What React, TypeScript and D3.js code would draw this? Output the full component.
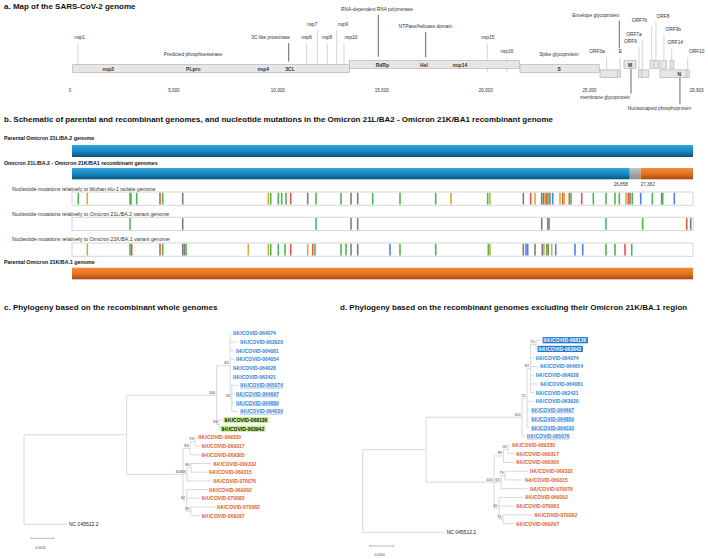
import React from "react";
import * as d3 from "d3";

// ---------------- DATA ----------------
const GENOME_LENGTH = 29903;
const axisTicks = [0, 5000, 10000, 15000, 20000, 25000, 29903];

// gene boxes of the genome map (genome coordinates, reading frame row)
const geneBoxes = [
  { name: "ORF1a", start: 130, end: 13440, frame: 2, dividers: [] as number[] },
  { name: "ORF1b", start: 13440, end: 21620, frame: 1, dividers: [] as number[] },
  { name: "S", start: 21650, end: 25465, frame: 2, dividers: [] as number[] },
  { name: "ORF3a", start: 25500, end: 26495, frame: 3, dividers: [26350] },
  { name: "M", start: 26653, end: 27230, frame: 1, dividers: [] as number[] },
  { name: "ORF6-7a", start: 27341, end: 27856, frame: 3, dividers: [27505] },
  { name: "ORF7b-8", start: 27905, end: 28305, frame: 1, dividers: [28098] },
  { name: "ORF9b", start: 28386, end: 28708, frame: 1, dividers: [] as number[] },
  { name: "ORF14", start: 28867, end: 29059, frame: 1, dividers: [] as number[] },
  { name: "N", start: 28386, end: 29795, frame: 3, dividers: [29670] },
];

// bold labels inside the boxes: [text, genome position, frame]
const boxLabels: [string, number, number][] = [
  ["nsp2", 1843, 2], ["PLpro", 5932, 2], ["nsp4", 9300, 2], ["3CL", 10584, 2],
  ["RdRp", 15026, 1], ["Hel", 17032, 1], ["nsp14", 18764, 1],
  ["S", 23541, 2], ["M", 26943, 1], ["N", 29314, 3],
];

// annotations: [label, line position, label position, label row, line end row, strong]
const annotations: [string, number | null, number, number, number | null, boolean][] = [
  ["nsp1", 385, 467, 37.7, 65, false],
  ["Predicted phosphoesterase", null, 5918, 54, null, false],
  ["3C-like proteinase", 10522, 9656, 37.7, 61.7, true],
  ["nsp6", 11388, 11388, 37.7, 65, false],
  ["nsp7", 11898, 11653, 24.3, 65, false],
  ["nsp8", 12379, 12365, 37.7, 65, false],
  ["nsp9", 12831, 13134, 24.3, 65, false],
  ["nsp10", 13183, 13519, 37.7, 65, false],
  ["RNA-dependent RNA polymerase", 14833, 14770, 9.3, 56.7, true],
  ["NTPase/helicase domain", 17113, 17104, 26.7, 57.3, true],
  ["nsp15", 20077, 20101, 37.7, 72, false],
  ["nsp16", 21010, 21025, 51.7, 72, false],
  ["Spike glycoprotein", null, 23517, 54, null, false],
  ["ORF3a", 25822, 25355, 51.7, 70, false],
  ["E", 26461, 26475, 51.7, 70, false],
  ["Envelope glycoprotein", 26428, 25297, 15, 48.3, true],
  ["ORF6", 27376, 26967, 41.7, 70, false],
  ["ORF7a", 27535, 27135, 34.3, 70, false],
  ["ORF7b", 27987, 27400, 20.7, 61, false],
  ["ORF8", 28193, 28530, 16, 61, false],
  ["ORF9b", 28578, 29026, 29, 61, false],
  ["ORF14", 28949, 29123, 42.7, 61, false],
  ["ORF10", 29719, 30152, 51.7, 70, false],
  ["membrane glycoprotein", 26991, 25740, 97.7, 68.3, true],
  ["Nucleocapsid phosphoprotein", 29348, 28362, 108.3, 77.3, true],
];

// recombination breakpoints
const breakpoints = [26858, 27382];

// nucleotide mutations: [genome position, nucleotide / deletion]
const mutWuhan: [number, string][] = [
  [303, "A"], [737, "G"], [2793, "A"], [2841, "A"], [3116, "A"], [4237, "T"], [4368, "A"],
  [5331, "del"], [9453, "G"], [9568, "A"], [9934, "A"], [10098, "A"], [10305, "A"], [10531, "T"],
  [11350, "del"], [11749, "A"], [12953, "A"], [13435, "del"], [13757, "del"], [14480, "A"],
  [15794, "A"], [17513, "A"], [18250, "G"], [20017, "A"], [20128, "G"], [21732, "del"],
  [22088, "T"], [22295, "G"], [22618, "del"], [22704, "del"], [22777, "G"], [22849, "T"],
  [22921, "A"], [23017, "del"], [23147, "C"], [23499, "G"], [23629, "T"], [23706, "G"],
  [23947, "T"], [24029, "A"], [24544, "T"], [25103, "A"], [25714, "A"], [26147, "A"],
  [26355, "A"], [26677, "G"], [26788, "T"], [26869, "del"], [26980, "A"], [27385, "C"],
  [27943, "A"], [28396, "del"], [28444, "A"], [29003, "C"],
];
const mutBA2: [number, string][] = [
  [2793, "A"], [5331, "del"], [11749, "A"], [13435, "del"], [13757, "del"], [22618, "del"],
  [22907, "A"], [22969, "del"], [25714, "A"], [27481, "A"], [29600, "T"], [29793, "del"],
];
const mutBA1: [number, string][] = [
  [737, "G"], [2793, "A"], [2875, "T"], [4237, "T"], [4368, "A"], [5331, "del"], [5408, "del"],
  [5490, "A"], [8490, "G"], [9453, "G"], [9568, "A"], [9934, "A"], [10257, "A"], [10531, "T"],
  [11350, "G"], [11591, "T"], [11701, "A"], [12953, "A"], [13194, "A"], [13435, "del"],
  [13757, "del"], [15313, "C"], [15794, "A"], [17513, "A"], [20046, "A"], [20128, "G"],
  [21732, "del"], [21862, "C"], [21944, "C"], [22295, "del"], [22647, "del"], [22725, "G"],
  [22859, "A"], [22936, "del"], [23099, "G"], [23292, "C"], [24221, "C"], [24592, "C"],
  [25714, "A"], [26147, "A"], [26629, "T"], [26952, "A"],
];

const mutTracks: [string, [number, string][]][] = [
  ["Nucleotide mutations relatively to Wuhan-Hu-1 isolate genome", mutWuhan],
  ["Nucleotide mutations relatively to Omicron 21L/BA.2 variant genome", mutBA2],
  ["Nucleotide mutations relatively to Omicron 21K/BA.1 variant genome", mutBA1],
];

// phylogenies (branch lengths in substitutions / site, bootstrap)
type TNode = { name?: string; len: number; bs?: number; children?: TNode[] };
const L = (name: string, len: number): TNode => ({ name, len });
const Nd = (len: number, bs: number | undefined, children: TNode[]): TNode => ({ len, bs, children });

const treeWhole: TNode = Nd(0, undefined, [
  Nd(0.00893, undefined, [
    Nd(0.00783, 100, [
      Nd(0.00116, 84, [
        L("IHUCOVID-064074", 0.00009), L("IHUCOVID-063920", 0.0007), L("IHUCOVID-064081", 0.00035),
        L("IHUCOVID-064054", 0.00035), L("IHUCOVID-064028", 0.00009), L("IHUCOVID-062421", 0.00009),
        Nd(0.00015, 82, [
          L("IHUCOVID-065076", 0.00055), L("IHUCOVID-064697", 0.0002),
          L("IHUCOVID-064889", 0.0002), L("IHUCOVID-064030", 0.00055),
        ]),
      ]),
      Nd(0.0002, 84, [L("IHUCOVID-068136", 0.0003), L("IHUCOVID-063942", 0.00003)]),
    ]),
    Nd(0.0049, 100, [
      Nd(0.00061, 83, [
        Nd(0.00043, 93, [L("IHUCOVID-069330", 0.00011), L("IHUCOVID-069317", 0.00041)]),
        L("IHUCOVID-069305", 0.00084),
      ]),
      Nd(0.00035, 68, [
        Nd(0.00035, 80, [L("IHUCOVID-069332", 0.00177), L("IHUCOVID-069315", 0.00139)]),
        L("IHUCOVID-070076", 0.00211),
      ]),
      Nd(0.00032, 62, [
        L("IHUCOVID-069292", 0.00177), L("IHUCOVID-070083", 0.00113),
        Nd(0.00035, 59, [L("IHUCOVID-070082", 0.00211), L("IHUCOVID-069297", 0.00078)]),
      ]),
    ]),
  ]),
  L("NC 045512.2", 0.00374),
]);

const treeExcl: TNode = Nd(0, undefined, [
  Nd(0.00528, undefined, [
    Nd(0.008, 100, [
      Nd(0.00042, 72, [
        Nd(0.00029, 82, [
          Nd(0.00046, 70, [L("IHUCOVID-068136", 0.00046), L("IHUCOVID-063942", 0.00004)]),
          L("IHUCOVID-064074", 0.00027), L("IHUCOVID-064054", 0.00063), L("IHUCOVID-064028", 0.00027),
          L("IHUCOVID-064081", 0.00063), L("IHUCOVID-062421", 0.00027),
        ]),
        L("IHUCOVID-063920", 0.00056), L("IHUCOVID-064697", 0.00017),
        L("IHUCOVID-064889", 0.00017), L("IHUCOVID-064030", 0.00017),
      ]),
      L("IHUCOVID-065076", 0.00023),
    ]),
    Nd(0.00567, 100, [
      Nd(0.00079, 89, [
        Nd(0.00038, 59, [L("IHUCOVID-069330", 0.00017), L("IHUCOVID-069317", 0.0005)]),
        L("IHUCOVID-069305", 0.00088),
      ]),
      Nd(0.00058, 63, [
        Nd(0.00033, 79, [L("IHUCOVID-069332", 0.00192), L("IHUCOVID-069315", 0.0015)]),
        L("IHUCOVID-070076", 0.00225),
      ]),
      Nd(0.00042, 65, [
        L("IHUCOVID-069292", 0.002), L("IHUCOVID-070083", 0.00125),
        Nd(0.00033, 71, [L("IHUCOVID-070082", 0.00244), L("IHUCOVID-069297", 0.00092)]),
      ]),
    ]),
  ]),
  L("NC 045512.2", 0.00683),
]);

const orangeTips = [
  "IHUCOVID-069330", "IHUCOVID-069317", "IHUCOVID-069305", "IHUCOVID-069332", "IHUCOVID-069315",
  "IHUCOVID-070076", "IHUCOVID-069292", "IHUCOVID-070083", "IHUCOVID-070082", "IHUCOVID-069297",
];
const underlinedTips = ["IHUCOVID-065076", "IHUCOVID-064697", "IHUCOVID-064889", "IHUCOVID-064030"];
const highlightedTips = ["IHUCOVID-068136", "IHUCOVID-063942"];
const referenceTip = "NC 045512.2";
const scaleBarValue = 0.002;

// ---------------- STYLE ----------------
const FONT = "'Liberation Sans', Arial, Helvetica, sans-serif";
const mutColor: Record<string, string> = {
  A: "#4cb752", T: "#ec5443", G: "#cfae3c", C: "#4a84ee", del: "#7d7d7d",
};
const BLUE_TXT = "#2e7fd8";
const ORANGE_TXT = "#e0602a";

const xa = d3.scaleLinear().domain([0, GENOME_LENGTH]).range([70, 691.5]);
const xb = d3.scaleLinear().domain([0, GENOME_LENGTH]).range([72, 693]);
const frameY = d3.scaleOrdinal<number, number>().domain([1, 2, 3]).range([64.5, 68.5, 73.7]);
const BOX_H = 7.6;

// ---------------- TREE ----------------
type LNode = d3.HierarchyNode<TNode> & { px?: number; py?: number; cum?: number };

function layoutTree(root: TNode, x0: number, pxPerMilli: number, y0: number, y1: number) {
  const h = d3.hierarchy(root, (d) => d.children) as LNode;
  const leaves = h.leaves() as LNode[];
  const yS = d3.scaleLinear().domain([0, leaves.length - 1]).range([y0, y1]);
  const xS = d3.scaleLinear().domain([0, 0.001]).range([x0, x0 + pxPerMilli]);
  h.eachBefore((n: LNode) => {
    n.cum = ((n.parent as LNode)?.cum ?? 0) + n.data.len;
    n.px = xS(n.cum);
  });
  leaves.forEach((l, i) => (l.py = yS(i)));
  h.eachAfter((n: LNode) => {
    if (n.children) {
      const c = n.children as LNode[];
      n.py = ((c[0].py as number) + (c[c.length - 1].py as number)) / 2;
    }
  });
  return { h, xS };
}

function Tree({ data, x0, pxPerMilli, y0, y1, hlFill, hlText, barY }: {
  data: TNode; x0: number; pxPerMilli: number; y0: number; y1: number;
  hlFill: string; hlText: string; barY: number;
}) {
  const { h, xS } = layoutTree(data, x0, pxPerMilli, y0, y1);
  const nodes = h.descendants() as LNode[];
  const fs = 5;
  const labelW = 8.56 * fs;
  const barX0 = x0 + 7;
  const barX1 = barX0 + (xS(scaleBarValue) - xS(0));
  return (
    <g>
      {nodes.map((n, i) => (
        <g key={i}>
          {n.parent && (
            <line x1={(n.parent as LNode).px} x2={n.px} y1={n.py} y2={n.py} stroke="#cfcfcf" strokeWidth={0.8} />
          )}
          {n.children && (
            <line x1={n.px} x2={n.px} y1={(n.children[0] as LNode).py}
              y2={(n.children[n.children.length - 1] as LNode).py} stroke="#cfcfcf" strokeWidth={0.8} />
          )}
          {n.children && n.data.bs !== undefined && (
            <text x={(n.px as number) - 1.5} y={(n.py as number) - 2.6} fontSize={3.8} fill="#444"
              textAnchor="end" dominantBaseline="central" fontFamily={FONT}>{n.data.bs}</text>
          )}
        </g>
      ))}
      {(h.leaves() as LNode[]).map((n, i) => {
        const name = n.data.name as string;
        const isRef = name === referenceTip;
        const hl = highlightedTips.includes(name);
        const orange = orangeTips.includes(name);
        const ul = underlinedTips.includes(name);
        const tx = (n.px as number) + 2;
        const fill = hl ? hlText : isRef ? "#222" : orange ? ORANGE_TXT : BLUE_TXT;
        return (
          <g key={"l" + i}>
            {hl && <rect x={tx - 1} y={(n.py as number) - 3.2} width={labelW + 2.5} height={6.2} fill={hlFill} />}
            <text x={tx} y={n.py} fontSize={fs} fontWeight={isRef ? "normal" : "bold"} fill={fill}
              dominantBaseline="central" fontFamily={FONT}>{name}</text>
            {ul && <line x1={tx} x2={tx + labelW} y1={(n.py as number) + 2.6} y2={(n.py as number) + 2.6}
              stroke={BLUE_TXT} strokeWidth={0.5} />}
          </g>
        );
      })}
      <line x1={barX0} x2={barX1} y1={barY} y2={barY} stroke="#999" strokeWidth={0.7} />
      <line x1={barX0} x2={barX0} y1={barY - 1} y2={barY + 1} stroke="#999" strokeWidth={0.6} />
      <line x1={barX1} x2={barX1} y1={barY - 1} y2={barY + 1} stroke="#999" strokeWidth={0.6} />
      <text x={(barX0 + barX1) / 2 - 2} y={barY + 9.3} fontSize={3.4} fill="#444" textAnchor="middle"
        dominantBaseline="central" fontFamily={FONT}>{scaleBarValue.toFixed(4)}</text>
    </g>
  );
}

// ---------------- APP ----------------
export default function App() {
  const trackTops = [192, 217.3, 243];
  const trackLabelY = [189, 214, 239.3];
  const TRACK_H = 13.3;
  return (
    <svg width={708} height={559} style={{ position: "absolute", left: 0, top: 0, background: "#fff" }}
      fontFamily={FONT}>
      <defs>
        <linearGradient id="gBlue" x1="0" y1="0" x2="0" y2="1">
          <stop offset="0%" stopColor="#33a7df" />
          <stop offset="55%" stopColor="#1584bf" />
          <stop offset="100%" stopColor="#0b5479" />
        </linearGradient>
        <linearGradient id="gOrange" x1="0" y1="0" x2="0" y2="1">
          <stop offset="0%" stopColor="#f48d38" />
          <stop offset="55%" stopColor="#e2701f" />
          <stop offset="100%" stopColor="#a5470f" />
        </linearGradient>
        <linearGradient id="gGrey" x1="0" y1="0" x2="0" y2="1">
          <stop offset="0%" stopColor="#c4c4c4" />
          <stop offset="100%" stopColor="#8d8d8d" />
        </linearGradient>
      </defs>
      <rect width={708} height={559} fill="#fff" />

      {/* ---------- Panel a ---------- */}
      <text x={4} y={6.5} fontSize={8} fontWeight="bold" dominantBaseline="central" fill="#111">
        a. Map of the SARS-CoV-2 genome
      </text>
      {annotations.map(([label, at, labelAt, row, to, strong], i) => (
        <g key={"an" + i}>
          {at !== null && to !== null && (
            <line x1={xa(at)} x2={xa(at)} y1={row < to ? row + 5.5 : to} y2={row < to ? to : row - 4}
              stroke={strong ? "#555" : "#c4c4c4"} strokeWidth={strong ? 0.9 : 0.7} />
          )}
          <text x={xa(labelAt)} y={row} fontSize={4.8} fill="#333" textAnchor="middle"
            dominantBaseline="central">{label}</text>
        </g>
      ))}
      {geneBoxes.map((g, i) => (
        <g key={"gb" + i}>
          <rect x={xa(g.start)} y={frameY(g.frame) - BOX_H / 2} width={xa(g.end) - xa(g.start)} height={BOX_H}
            fill="#e6e6e6" stroke="#a9a9a9" strokeWidth={0.6} />
          {g.dividers.map((d, j) => (
            <line key={j} x1={xa(d)} x2={xa(d)} y1={frameY(g.frame) - BOX_H / 2} y2={frameY(g.frame) + BOX_H / 2}
              stroke="#a9a9a9" strokeWidth={0.6} />
          ))}
        </g>
      ))}
      {boxLabels.map(([t, pos, fr], i) => (
        <text key={"bl" + i} x={xa(pos)} y={frameY(fr)} fontSize={5} fontWeight="bold" fill="#333"
          textAnchor="middle" dominantBaseline="central">{t}</text>
      ))}
      {axisTicks.map((t, i) => (
        <text key={"tk" + i} x={i === axisTicks.length - 1 ? xa(t) - 2 : xa(t)} y={90} fontSize={4.6} fill="#333"
          textAnchor={i === axisTicks.length - 1 ? "start" : "middle"} dominantBaseline="central">
          {d3.format(",")(t)}
        </text>
      ))}

      {/* ---------- Panel b ---------- */}
      <text x={4} y={119.5} fontSize={8} fontWeight="bold" dominantBaseline="central" fill="#111">
        b. Schematic of parental and recombinant genomes, and nucleotide mutations in the Omicron 21L/BA2 - Omicron 21K/BA1 recombinant genome
      </text>
      <text x={4} y={138.3} fontSize={5.3} fontWeight="bold" dominantBaseline="central" fill="#111">
        Parental Omicron 21L/BA.2 genome
      </text>
      <rect x={xb(0)} y={145} width={xb(GENOME_LENGTH) - xb(0)} height={12} fill="url(#gBlue)" />
      <text x={4} y={162.7} fontSize={5.3} fontWeight="bold" dominantBaseline="central" fill="#111">
        Omicron 21L/BA.2 - Omicron 21K/BA1 recombinant genomes
      </text>
      <rect x={xb(0)} y={168} width={xb(breakpoints[0]) - xb(0)} height={11.3} fill="url(#gBlue)" />
      <rect x={xb(breakpoints[0])} y={168} width={xb(breakpoints[1]) - xb(breakpoints[0])} height={11.3} fill="url(#gGrey)" />
      <rect x={xb(breakpoints[1])} y={168} width={xb(GENOME_LENGTH) - xb(breakpoints[1])} height={11.3} fill="url(#gOrange)" />
      <text x={xb(breakpoints[0]) - 2} y={184.3} fontSize={4.6} fill="#333" textAnchor="end" dominantBaseline="central">
        {d3.format(",")(breakpoints[0])}
      </text>
      <text x={xb(breakpoints[1])} y={184.3} fontSize={4.6} fill="#333" textAnchor="start" dominantBaseline="central">
        {d3.format(",")(breakpoints[1])}
      </text>
      {mutTracks.map(([label, muts], k) => (
        <g key={"tr" + k}>
          <text x={12} y={trackLabelY[k]} fontSize={5.2} fill="#333" dominantBaseline="central">{label}</text>
          <rect x={xb(0)} y={trackTops[k]} width={xb(GENOME_LENGTH) - xb(0)} height={TRACK_H} fill="#fff"
            stroke="#d5d5d5" strokeWidth={1} />
          {muts.map(([pos, nt], j) => (
            <line key={j} x1={xb(pos)} x2={xb(pos)} y1={trackTops[k] + 0.8} y2={trackTops[k] + TRACK_H - 0.8}
              stroke={mutColor[nt]} strokeWidth={1.6} />
          ))}
        </g>
      ))}
      <text x={4} y={262.3} fontSize={5.3} fontWeight="bold" dominantBaseline="central" fill="#111">
        Parental Omicron 21K/BA.1 genome
      </text>
      <rect x={xb(0)} y={267.7} width={xb(GENOME_LENGTH) - xb(0)} height={11.6} fill="url(#gOrange)" />

      {/* ---------- Panel c ---------- */}
      <text x={4} y={307.5} fontSize={8} fontWeight="bold" dominantBaseline="central" fill="#111">
        c. Phylogeny based on the recombinant whole genomes
      </text>
      <Tree data={treeWhole} x0={24} pxPerMilli={11.5} y0={333.3} y1={524.3}
        hlFill="#c8f294" hlText="#111" barY={538.3} />

      {/* ---------- Panel d ---------- */}
      <text x={340} y={307.5} fontSize={8} fontWeight="bold" dominantBaseline="central" fill="#111">
        d. Phylogeny based on the recombinant genomes excluding their Omicron 21K/BA.1 region
      </text>
      <Tree data={treeExcl} x0={362.7} pxPerMilli={12} y0={340.3} y1={532.3}
        hlFill="#1f78cf" hlText="#ffffff" barY={546} />
    </svg>
  );
}
